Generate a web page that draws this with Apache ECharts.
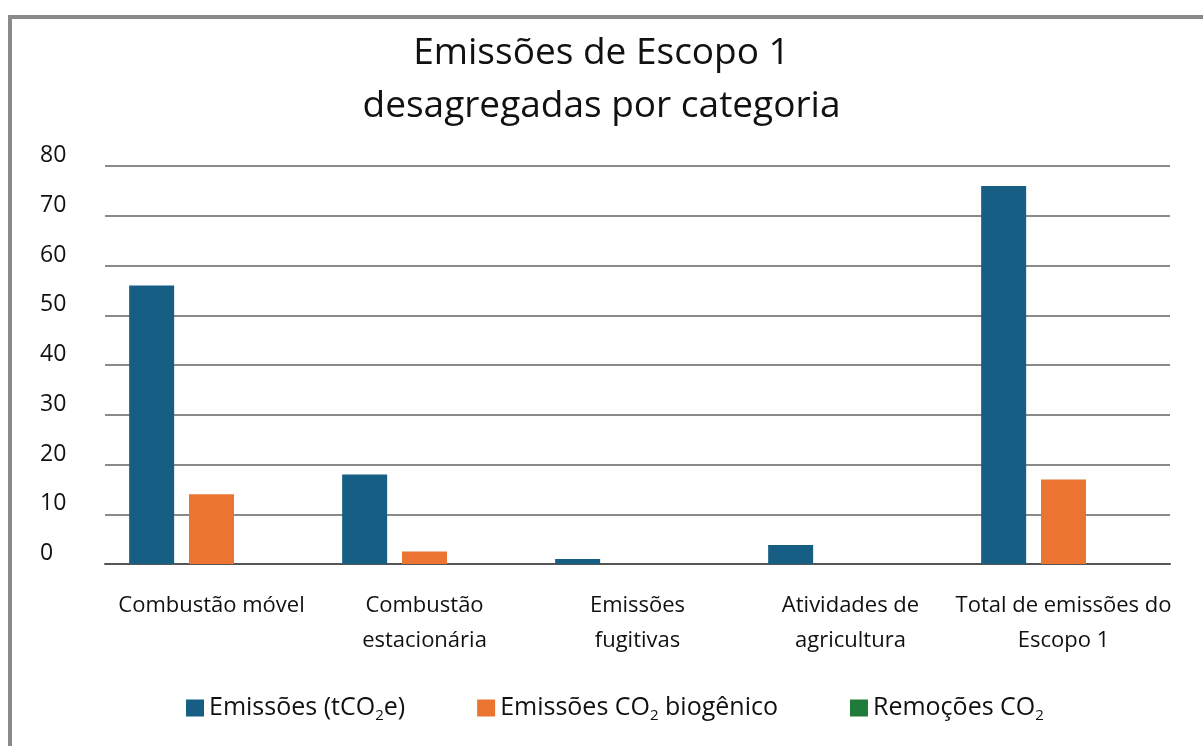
<!DOCTYPE html>
<html>
<head>
<meta charset="utf-8">
<title>Emissões de Escopo 1</title>
<script src="https://cdn.jsdelivr.net/npm/echarts@6/dist/echarts.min.js"></script>
<style>
	html, body { margin: 0; padding: 0; background: #fff; overflow: hidden; }
	#frame { position: absolute; left: 8px; top: 15px; width: 1300px; height: 800px; border-left: 4px solid #8a8a8a; border-top: 4px solid #8a8a8a; }
	#chart { position: absolute; left: 0; top: 0; width: 1203px; height: 746px; }
</style>
</head>
<body>
<div id="frame"></div>
<div id="chart"></div>
<script>
var byId = function(id) {
	return document.getElementById(id);
};

// dados
var categorias = ['Combustão móvel', 'Combustão\nestacionária', 'Emissões\nfugitivas', 'Atividades de\nagricultura', 'Total de emissões do\nEscopo 1'];
var emissoes = [56, 18, 1, 3.8, 76];
var biogenico = [14, 2.5, 0, 0, 17];
var remocoes = [0, 0, 0, 0, 0];
var nomesSeries = ['Emissões (tCO2e)', 'Emissões CO2 biogênico', 'Remoções CO2'];
var nomesLegenda = ['Emissões (tCO{sub|2}e)', 'Emissões CO{sub|2} biogênico', 'Remoções CO{sub|2}'];
var cores = ['#175e84', '#ec7431', '#1e7b3a'];

var fonte = '"Open Sans", "Noto Sans", sans-serif';
var corTexto = '#111';

function makeSeries(idx, valores)
{
	return {
		name: nomesSeries[idx],
		type: 'bar',
		data: valores,
		barWidth: 45,
		barGap: '33%',
		itemStyle: { color: cores[idx] }
	};
}

var getOption = function() {
	var chartOption = {
		animation: false,
		textStyle: { fontFamily: fonte },
		title: {
			text: 'Emissões de Escopo 1\ndesagregadas por categoria',
			left: 'center',
			top: 27,
			padding: [0, 0, 0, 20],
			textStyle: { fontFamily: fonte, fontSize: 37, fontWeight: 'normal', lineHeight: 53, color: corTexto }
		},
		legend: {
			left: 181,
			top: 688,
			itemWidth: 18,
			itemHeight: 17,
			itemGap: 72,
			icon: 'rect',
			data: nomesSeries,
			formatter: function(name) {
				return nomesLegenda[nomesSeries.indexOf(name)];
			},
			textStyle: {
				fontFamily: fonte, fontSize: 25, lineHeight: 30, color: corTexto,
				rich: {
					sub: { fontFamily: fonte, fontSize: 15, lineHeight: 16, verticalAlign: 'bottom', color: corTexto }
				}
			}
		},
		grid: { left: 105, right: 33, top: 166, bottom: 182 },
		xAxis: {
			type: 'category',
			data: categorias,
			axisTick: { show: false },
			axisLine: { lineStyle: { color: '#555', width: 2 } },
			axisLabel: { interval: 0, margin: 24, fontSize: 22, lineHeight: 35, color: corTexto, fontFamily: fonte }
		},
		yAxis: {
			type: 'value',
			min: 0,
			max: 80,
			interval: 10,
			axisLine: { show: false },
			axisTick: { show: false },
			splitLine: { lineStyle: { color: '#8a8a8a', width: 2 } },
			axisLabel: { align: 'left', margin: 65, verticalAlign: 'bottom', fontSize: 23, lineHeight: 21, color: corTexto, fontFamily: fonte }
		},
		series: [
			makeSeries(0, emissoes),
			makeSeries(1, biogenico),
			makeSeries(2, remocoes)
		]
	};
	return chartOption;
};

function initChart()
{
	var barChart = echarts.init(byId('chart'));
	barChart.setOption(getOption());
}

initChart();
</script>
</body>
</html>
